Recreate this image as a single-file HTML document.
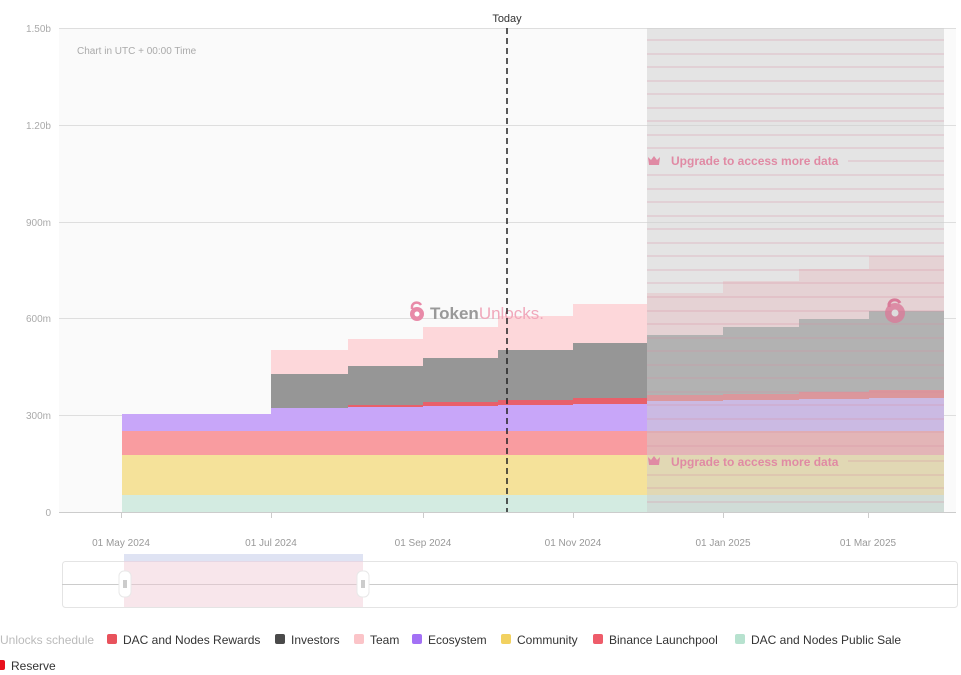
<!DOCTYPE html>
<html><head><meta charset="utf-8"><style>
html,body{margin:0;padding:0;background:#fff;width:961px;height:675px;overflow:hidden}
svg{display:block;font-family:"Liberation Sans",sans-serif}
</style></head><body>
<svg width="961" height="675" viewBox="0 0 961 675" xmlns="http://www.w3.org/2000/svg">
<rect x="59" y="28" width="897" height="484" fill="#fafafa"/>
<g stroke="#dedede" stroke-width="1">
<line x1="59" y1="28.5" x2="956" y2="28.5"/>
<line x1="59" y1="125.5" x2="956" y2="125.5"/>
<line x1="59" y1="222.5" x2="956" y2="222.5"/>
<line x1="59" y1="318.5" x2="956" y2="318.5"/>
<line x1="59" y1="415.5" x2="956" y2="415.5"/>
<line x1="59" y1="512.5" x2="956" y2="512.5" stroke="#ccc"/>
</g>
<g font-size="10" fill="#aaa" text-anchor="end">
<text x="51" y="32">1.50b</text><text x="51" y="129">1.20b</text><text x="51" y="226">900m</text>
<text x="51" y="322">600m</text><text x="51" y="419">300m</text><text x="51" y="516">0</text>
</g>
<text x="77" y="54" font-size="10" fill="#aaa">Chart in UTC + 00:00 Time</text>
<g id="data">
<!-- public sale -->
<rect x="122" y="495" width="822" height="17" fill="#d3ebe1"/>
<rect x="122" y="455" width="822" height="40" fill="#f5e29a"/>
<rect x="122" y="431" width="822" height="24" fill="#f99ca0"/>
<!-- ecosystem -->
<path fill="#c8a6f9" d="M122 431V414H271V408H348V407H423V406H498V405H573V404H647V401H723V400H799V399H869V398H944V431Z"/>
<!-- dac rewards -->
<path fill="#e8606a" d="M271 408H348V407H423V406H498V405H573V404H647V401H723V400H799V399H869V398H944V390H869V392H799V394H723V395H647V398H573V400H498V402H423V405H348V408Z"/>
<!-- investors -->
<path fill="#969696" d="M271 408V374H348V366H423V358H498V350H573V343H647V335H723V327H799V319H869V311H944V390H869V392H799V394H723V395H647V398H573V400H498V402H423V405H348V408Z"/>
<!-- team -->
<path fill="#fdd7da" d="M271 374V350H348V339H423V327H498V316H573V304H647V293H723V281H799V269H869V256H944V311H869V319H799V327H723V335H647V343H573V350H498V358H423V366H348V374Z"/>
</g>
<!-- locked overlay -->
<rect x="647" y="28" width="297" height="484" fill="rgba(205,205,205,0.5)"/>
<g stroke="rgba(215,140,160,0.35)" stroke-width="1.2">
<line x1="647" y1="40" x2="944" y2="40"/><line x1="647" y1="54" x2="944" y2="54"/><line x1="647" y1="67" x2="944" y2="67"/><line x1="647" y1="81" x2="944" y2="81"/><line x1="647" y1="94" x2="944" y2="94"/><line x1="647" y1="108" x2="944" y2="108"/><line x1="647" y1="121" x2="944" y2="121"/><line x1="647" y1="135" x2="944" y2="135"/><line x1="647" y1="148" x2="944" y2="148"/><line x1="647" y1="175" x2="944" y2="175"/><line x1="647" y1="189" x2="944" y2="189"/><line x1="647" y1="202" x2="944" y2="202"/><line x1="647" y1="216" x2="944" y2="216"/><line x1="647" y1="229" x2="944" y2="229"/><line x1="647" y1="243" x2="944" y2="243"/><line x1="647" y1="256" x2="944" y2="256"/><line x1="647" y1="270" x2="944" y2="270"/><line x1="647" y1="283" x2="944" y2="283"/><line x1="647" y1="297" x2="944" y2="297"/><line x1="647" y1="311" x2="944" y2="311"/><line x1="647" y1="324" x2="944" y2="324"/><line x1="647" y1="338" x2="944" y2="338"/><line x1="647" y1="351" x2="944" y2="351"/><line x1="647" y1="365" x2="944" y2="365"/><line x1="647" y1="378" x2="944" y2="378"/><line x1="647" y1="392" x2="944" y2="392"/><line x1="647" y1="405" x2="944" y2="405"/><line x1="647" y1="419" x2="944" y2="419"/><line x1="647" y1="432" x2="944" y2="432"/><line x1="647" y1="446" x2="944" y2="446"/><line x1="647" y1="475" x2="944" y2="475"/><line x1="647" y1="488" x2="944" y2="488"/><line x1="647" y1="502" x2="944" y2="502"/>
<line x1="848" y1="161" x2="944" y2="161"/><line x1="848" y1="461" x2="944" y2="461"/>
</g>
<g fill="#e08aa4" font-size="12" font-weight="bold">
<path d="M648 157l3 3 3-4 3 4 3-3-1 8h-10z" fill="#e08aa4"/>
<text x="671" y="165">Upgrade to access more data</text>
<path d="M648 457l3 3 3-4 3 4 3-3-1 8h-10z" fill="#e08aa4"/>
<text x="671" y="466">Upgrade to access more data</text>
</g>
<!-- watermark -->
<g>
<circle cx="417" cy="314" r="7" fill="#e88aa8"/><circle cx="417" cy="314" r="2.5" fill="#fff"/>
<path d="M412 309v-3a5 5 0 0 1 9 -1" stroke="#e88aa8" stroke-width="2.5" fill="none"/>
<text x="430" y="319" font-size="17" font-weight="bold" fill="#999">Token<tspan fill="#f0a8bb" font-weight="normal">Unlocks.</tspan></text>
<circle cx="895" cy="313" r="10" fill="#d97a98" opacity="0.8"/><circle cx="895" cy="313" r="3.5" fill="#ddd"/>
<path d="M889 307v-3a6 6 0 0 1 11 -1" stroke="#d97a98" stroke-width="3" fill="none"/>
</g>
<!-- today -->
<line x1="507" y1="28" x2="507" y2="512" stroke="#222" stroke-width="1.5" stroke-dasharray="6,4"/>
<text x="507" y="22" font-size="11" fill="#333" text-anchor="middle">Today</text>
<!-- x ticks -->
<g stroke="#ccc"><line x1="121.5" y1="512" x2="121.5" y2="518"/><line x1="271.5" y1="512" x2="271.5" y2="518"/><line x1="423.5" y1="512" x2="423.5" y2="518"/><line x1="573.5" y1="512" x2="573.5" y2="518"/><line x1="723.5" y1="512" x2="723.5" y2="518"/><line x1="868.5" y1="512" x2="868.5" y2="518"/></g>
<g font-size="10" fill="#999" text-anchor="middle">
<text x="121" y="546">01 May 2024</text><text x="271" y="546">01 Jul 2024</text><text x="423" y="546">01 Sep 2024</text>
<text x="573" y="546">01 Nov 2024</text><text x="723" y="546">01 Jan 2025</text><text x="868" y="546">01 Mar 2025</text>
</g>
<!-- navigator -->
<rect x="62.5" y="561.5" width="895" height="46" rx="3" fill="#fff" stroke="#e4e4e4"/>
<line x1="62" y1="584.5" x2="958" y2="584.5" stroke="#ccc"/>
<rect x="124" y="554" width="239" height="8" fill="#dfe3f3"/>
<rect x="124" y="561" width="239" height="46" fill="rgba(240,200,210,0.45)"/>
<rect x="119" y="571" width="12" height="26" rx="5" fill="#fff" stroke="#e8e8e8"/>
<rect x="357" y="571" width="12" height="26" rx="5" fill="#fff" stroke="#e8e8e8"/>
<g stroke="#999"><line x1="124" y1="580" x2="124" y2="588"/><line x1="126" y1="580" x2="126" y2="588"/><line x1="362" y1="580" x2="362" y2="588"/><line x1="364" y1="580" x2="364" y2="588"/></g>
<!-- legend -->
<g font-size="12" fill="#333">
<text x="0" y="644" fill="#bbb">Unlocks schedule</text>
<rect x="107" y="634" width="10" height="10" rx="2" fill="#e8525c"/><text x="123" y="644">DAC and Nodes Rewards</text>
<rect x="275" y="634" width="10" height="10" rx="2" fill="#4a4a4a"/><text x="291" y="644">Investors</text>
<rect x="354" y="634" width="10" height="10" rx="2" fill="#fbc4c8"/><text x="370" y="644">Team</text>
<rect x="412" y="634" width="10" height="10" rx="2" fill="#a371f5"/><text x="428" y="644">Ecosystem</text>
<rect x="501" y="634" width="10" height="10" rx="2" fill="#f2d160"/><text x="517" y="644">Community</text>
<rect x="593" y="634" width="10" height="10" rx="2" fill="#ee5c6a"/><text x="609" y="644">Binance Launchpool</text>
<rect x="735" y="634" width="10" height="10" rx="2" fill="#b7e2cf"/><text x="751" y="644">DAC and Nodes Public Sale</text>
<rect x="-4" y="660" width="9" height="10" rx="2" fill="#e8101c"/><text x="11" y="670">Reserve</text>
</g>
</svg>
</body></html>
